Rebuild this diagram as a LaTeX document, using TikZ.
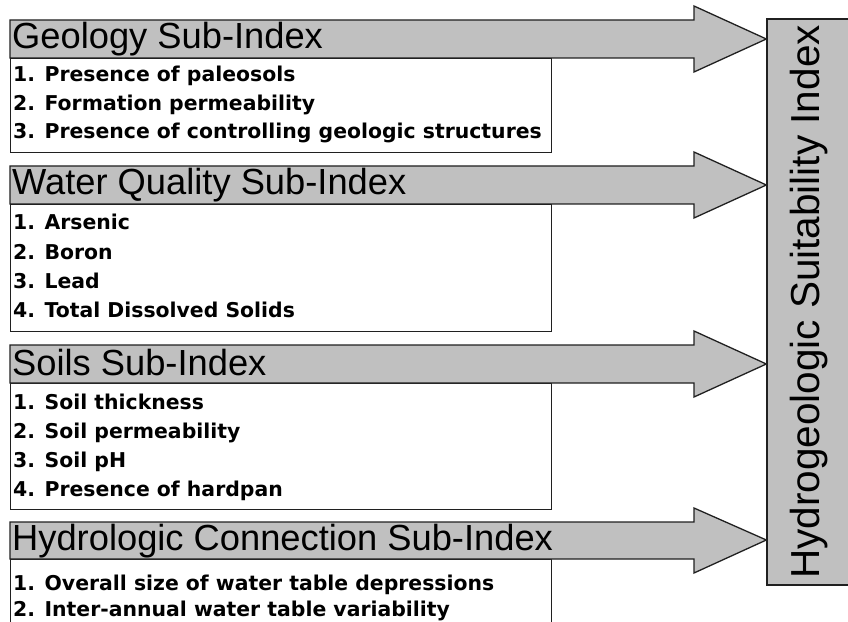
\documentclass[tikz,border=0pt]{standalone}
\usepackage{fontspec}
\setmainfont{Liberation Sans}
\newfontfamily\headfont{Liberation Sans}
\newfontfamily\itemfont{DejaVu Sans}
\usetikzlibrary{calc}
\definecolor{boxgray}{HTML}{C0C0C0}
\definecolor{edge}{HTML}{202020}
\tikzset{
  outline/.style={draw=edge, line width=1.3bp, line join=miter},
  contentbox/.style={outline, fill=white, anchor=north west, inner sep=0pt, minimum width=541bp},
  arrowshape/.style={outline, fill=boxgray},
  headtext/.style={anchor=base west, inner sep=0pt, font=\headfont\fontsize{36.3bp}{40bp}\selectfont},
  itemtext/.style={anchor=base west, inner sep=0pt, font=\itemfont\bfseries\fontsize{20.4bp}{24bp}\selectfont},
  indexbox/.style={outline, fill=boxgray, inner sep=0pt, minimum width=85bp, minimum height=566bp,
    font=\headfont\fontsize{40.5bp}{44bp}\selectfont}
}
\newcommand{\hsiArrow}[3]{%
  \draw[arrowshape] (10,#1) -- (694,#1) -- (694,#1-14) -- (hsi.west |- #3) -- (694,#2+14) -- (694,#2) -- (10,#2) -- cycle;}
\begin{document}
\begin{tikzpicture}[x=1bp,y=-1bp]
\useasboundingbox (0,0) rectangle (848,622);
\clip (0,0) rectangle (848,622);

% final index box
\node[indexbox] (hsi) at (809.5,302) {\rotatebox{90}{Hydrogeologic Suitability Index}};

% Geology
\coordinate (geoTip) at (0,39);
\node[contentbox, minimum height=94bp] (geoBox) at (10,58) {};
\hsiArrow{20}{58}{geoTip}
\node[headtext] (geoHead) at (12,49) {Geology Sub-Index};
\node[itemtext] (geo1) at (13,82) {1. Presence of paleosols};
\node[itemtext] (geo2) at (13,110.5) {2. Formation permeability};
\node[itemtext] (geo3) at (13,139) {3. Presence of controlling geologic structures};

% Water quality
\coordinate (wqTip) at (0,185);
\node[contentbox, minimum height=127bp] (wqBox) at (10,204) {};
\hsiArrow{166}{204}{wqTip}
\node[headtext] (wqHead) at (12,195) {Water Quality Sub-Index};
\node[itemtext] (wq1) at (13,230) {1. Arsenic};
\node[itemtext] (wq2) at (13,259) {2. Boron};
\node[itemtext] (wq3) at (13,288) {3. Lead};
\node[itemtext] (wq4) at (13,317) {4. Total Dissolved Solids};

% Soils
\coordinate (soTip) at (0,364);
\node[contentbox, minimum height=126bp] (soBox) at (10,383) {};
\hsiArrow{345}{383}{soTip}
\node[headtext] (soHead) at (12,375) {Soils Sub-Index};
\node[itemtext] (so1) at (13,409) {1. Soil thickness};
\node[itemtext] (so2) at (13,438) {2. Soil permeability};
\node[itemtext] (so3) at (13,467) {3. Soil pH};
\node[itemtext] (so4) at (13,496) {4. Presence of hardpan};

% Hydrologic connection
\coordinate (hyTip) at (0,540);
\node[contentbox, minimum height=100bp] (hyBox) at (10,559) {};
\hsiArrow{522}{559}{hyTip}
\node[headtext] (hyHead) at (12,550) {Hydrologic Connection Sub-Index};
\node[itemtext] (hy1) at (13,590) {1. Overall size of water table depressions};
\node[itemtext] (hy2) at (13,616) {2. Inter-annual water table variability};
\end{tikzpicture}
\end{document}
